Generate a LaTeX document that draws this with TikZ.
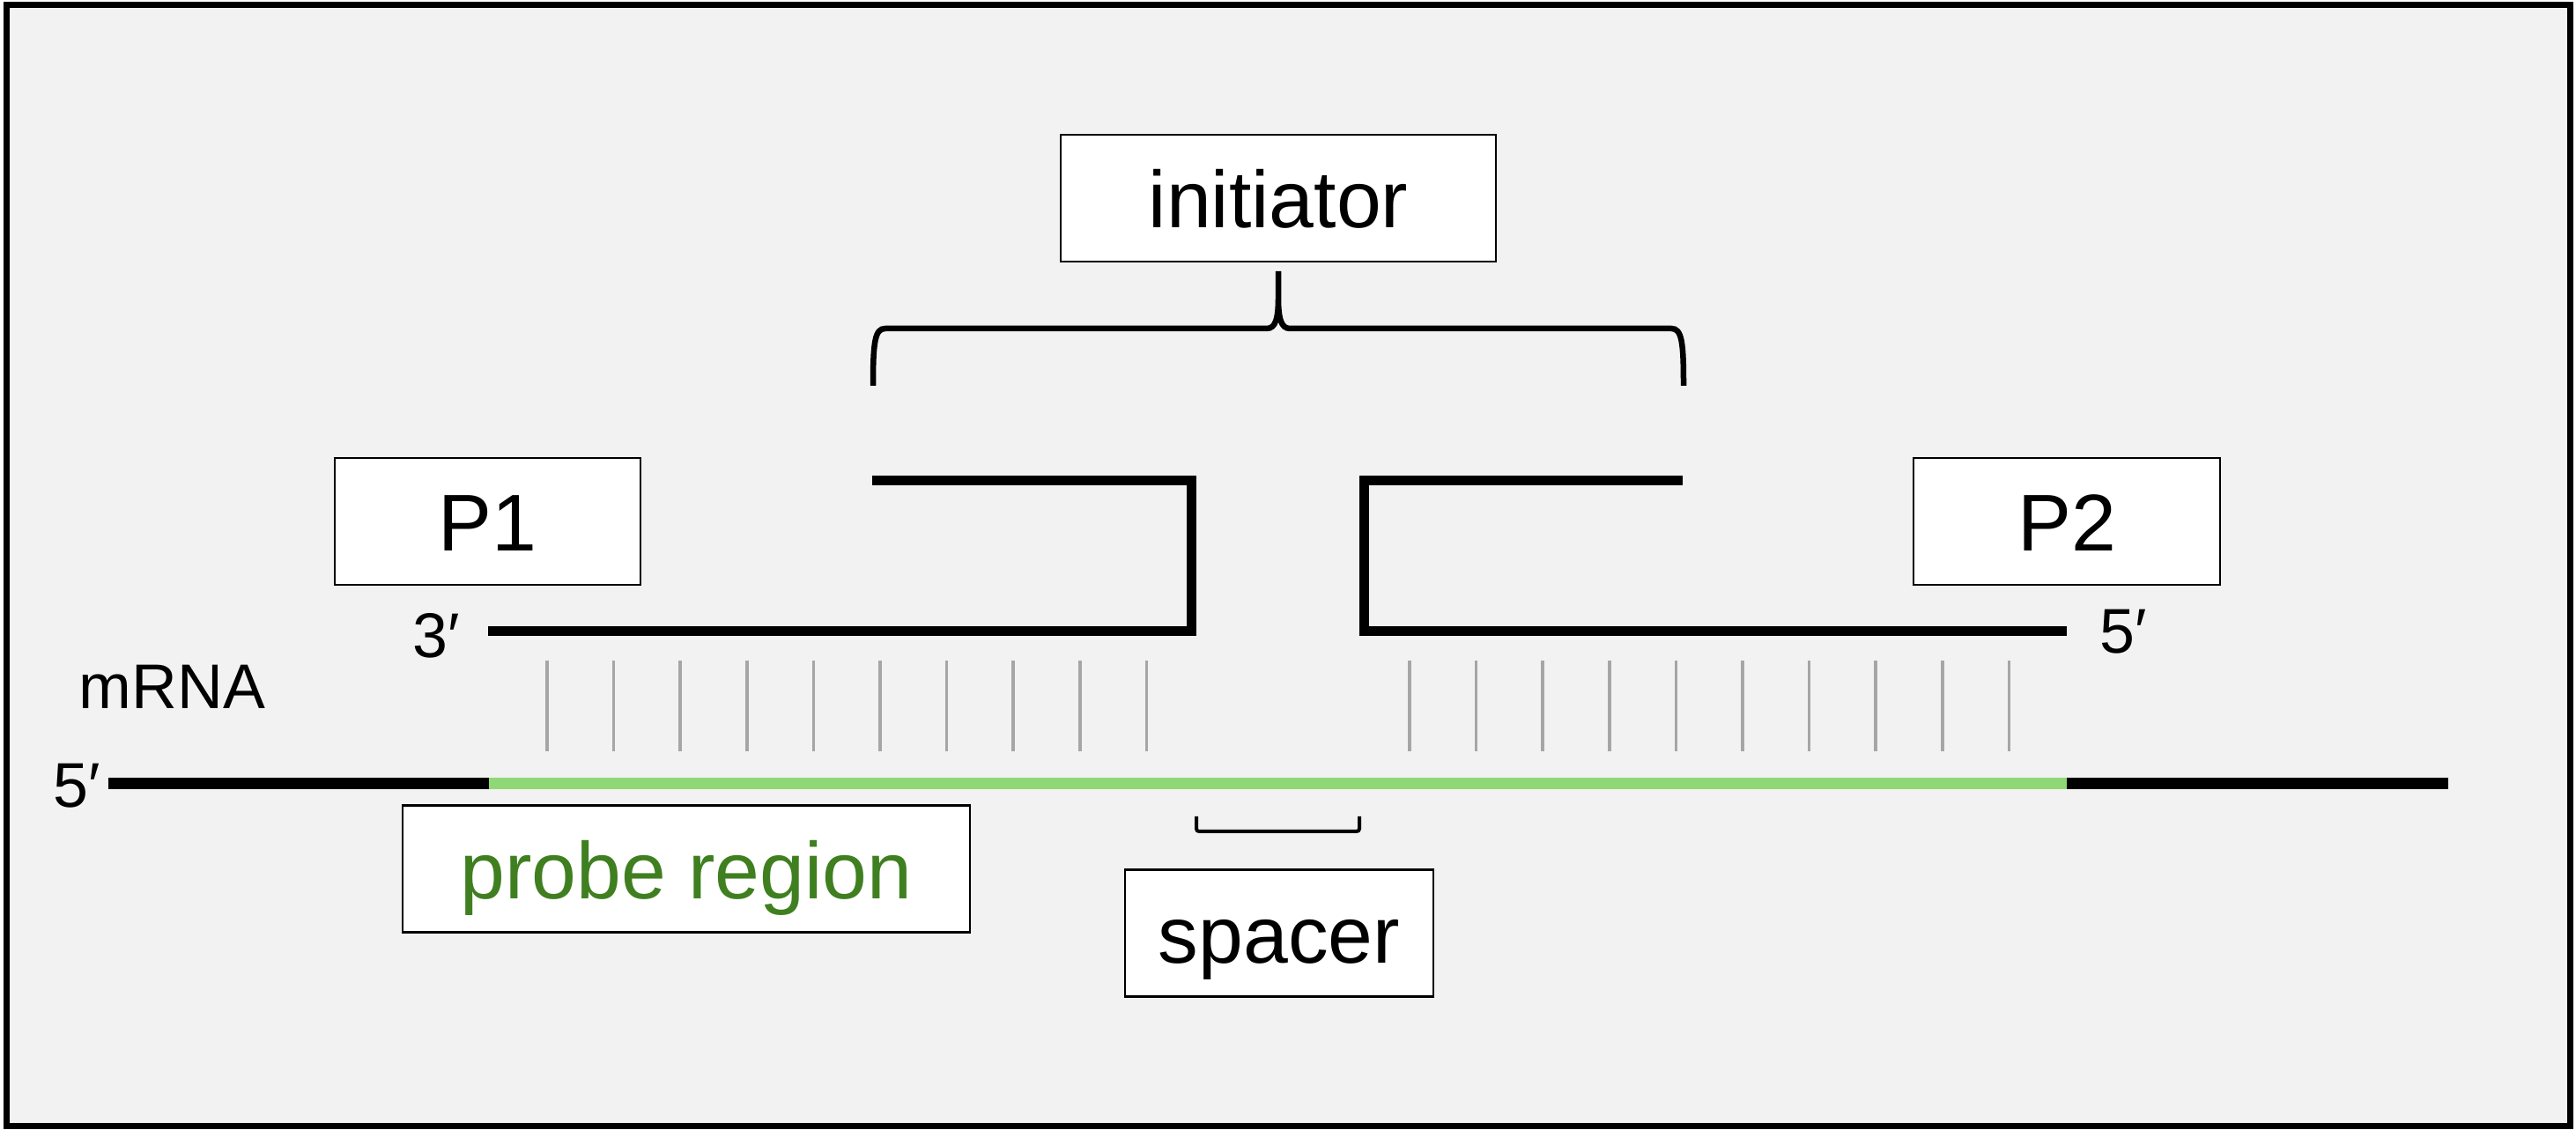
\documentclass[tikz,border=0pt]{standalone}
\usepackage{fontspec}
\setmainfont{Liberation Sans}
\usepackage{tikz}
\usetikzlibrary{calc,positioning}
\definecolor{bggray}{HTML}{F2F2F2}
\definecolor{probegreen}{HTML}{8FD876}
\definecolor{textgreen}{HTML}{3F7F20}
\definecolor{tickgray}{HTML}{A6A6A6}
\tikzstyle{LabelBox} = [rectangle, draw, fill=white, line width=0.8pt,
    minimum height=1.44cm, text height=0.68cm, text depth=0pt, inner sep=0pt,
    font=\fontsize{26}{30}\selectfont]
\tikzstyle{EndLabel} = [anchor=base, inner sep=0pt, font=\fontsize{20.4}{24}\selectfont]
\tikzstyle{strand} = [line width=0.11cm, line join=miter]
\tikzstyle{pairing} = [tickgray, line width=0.035cm]
\tikzstyle{mrna} = [line width=0.13cm]

\begin{document}
\begin{tikzpicture}[]
        \useasboundingbox (0,0) rectangle (29.24,12.83);
        \draw [fill=bggray, line width=0.07cm] (0.075,0.045) rectangle (29.175,12.77); %frame
        \node [LabelBox, minimum width=4.94cm] (Initiator) at (14.51,10.58) {initiator};
        \node [LabelBox, minimum width=3.47cm] (P1) at (5.535,6.91) {P1};
        \node [LabelBox, minimum width=3.48cm] (P2) at (23.46,6.91) {P2};
        \node [LabelBox, minimum width=6.44cm, text=textgreen] (ProbeRegion) at (7.79,2.965) {probe region};
        \node [LabelBox, minimum width=3.50cm] (Spacer) at (14.52,2.235) {spacer};
        \node [EndLabel] (P1End) at (4.955,5.36) {3′};
        \node [EndLabel] (P2End) at (24.10,5.41) {5′};
        \node [EndLabel] (mRNAEnd) at (0.87,3.66) {5′};
        \node [EndLabel] (mRNALabel) at (1.955,4.78) {mRNA};
        %brace over the initiator halves
        \draw [line width=0.065cm] (9.91,8.45) .. controls (9.91,8.95) and (9.93,9.10) .. (10.05,9.10)
            -- (14.38,9.10) .. controls (14.48,9.10) and (14.51,9.22) .. (14.51,9.45) -- (14.51,9.75)
            -- (14.51,9.45) .. controls (14.51,9.22) and (14.54,9.10) .. (14.64,9.10)
            -- (18.97,9.10) .. controls (19.09,9.10) and (19.11,8.95) .. (19.11,8.45);
        %probe strands
        \draw [strand] (9.90,7.37) -- (13.52,7.37) -- (13.52,5.66) -- (5.54,5.66); %P1
        \draw [strand] (19.10,7.37) -- (15.48,7.37) -- (15.48,5.66) -- (23.46,5.66); %P2
        %base pairs
        \foreach \i in {0,...,9} {
            \draw [pairing] ({6.21+0.756*\i},4.30) -- ++(0,1.03);
            \draw [pairing] ({16.00+0.756*\i},4.30) -- ++(0,1.03);
        }
        %mRNA
        \draw [mrna] (1.23,3.93) -- (5.55,3.93);
        \draw [mrna, probegreen] (5.55,3.93) -- (23.46,3.93);
        \draw [mrna] (23.46,3.93) -- (27.79,3.93);
        %spacer bracket
        \draw [line width=0.04cm, rounded corners=0.03cm] (13.58,3.56) -- (13.58,3.39) -- (15.43,3.39) -- (15.43,3.56);
    \end{tikzpicture}
\end{document}
